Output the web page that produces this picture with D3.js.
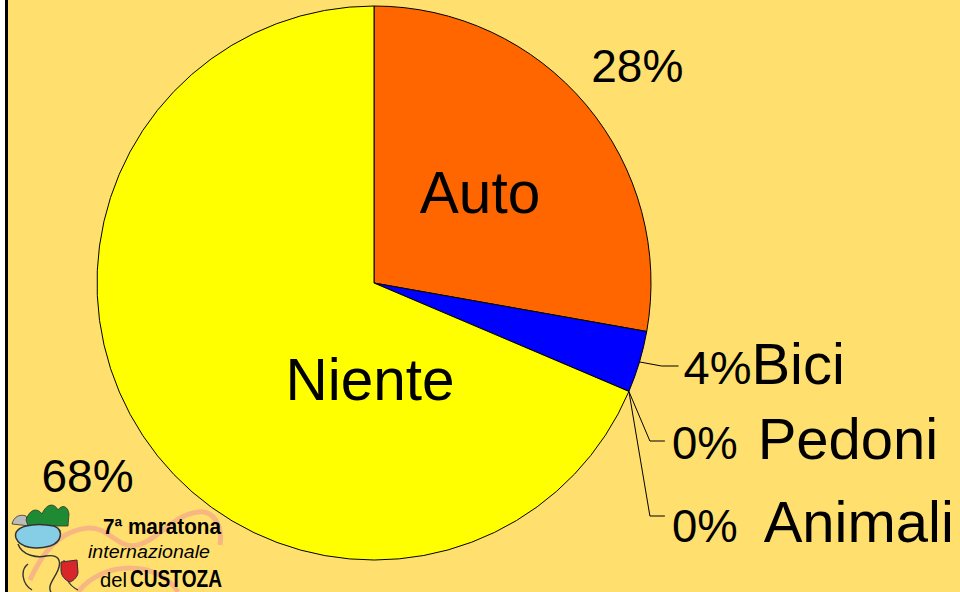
<!DOCTYPE html>
<meta charset="utf-8">
<style>
body { margin: 0; background: #fff; }
svg { display: block; }
text { font-family: "Liberation Sans", Arial, sans-serif; fill: #000; }
</style>
<body>
<script src="https://cdn.jsdelivr.net/npm/d3@7"></script>
<script>

var categories = ["Auto", "Bici", "Pedoni", "Animali", "Niente"];
var values = [27.8, 3.6, 0, 0, 68.6];
var pctLabels = ["28%", "4%", "0%", "0%", "68%"];
var colors = ["#FF6600", "#0000FF", "#FF00FF", "#00FFFF", "#FFFF00"];

var width = 960, height = 592;
var cx = 374, cy = 283, radius = 277;

var svg = d3.select("body").append("svg")
  .attr("width", width).attr("height", height);

// background + left frame line
svg.append("rect").attr("x", 8).attr("y", 0).attr("width", width - 8).attr("height", height)
  .attr("fill", "#FFE06E");
svg.append("line").attr("x1", 6.5).attr("x2", 6.5).attr("y1", 0).attr("y2", height)
  .attr("stroke", "#000").attr("stroke-width", 3);

// ---- logo (drawn roughly) ----
var logo = svg.append("g").attr("transform", "translate(8,500)");
logo.append("path")
  .attr("d", "M22,80 C40,40 60,30 80,28 C100,26 110,50 130,45 C150,40 165,15 190,12 C205,10 215,25 212,45 M70,92 C95,60 150,60 170,92")
  .attr("fill", "none").attr("stroke", "#F4A98A").attr("stroke-width", 5).attr("opacity", 0.75);
logo.append("path")
  .attr("d", "M4,24 C6,16 12,14 18,16 L22,26 Z")
  .attr("fill", "#bbb").attr("stroke", "#333").attr("stroke-width", 0.8);
logo.append("path")
  .attr("d", "M18,20 C22,8 30,8 34,14 C38,4 46,2 50,10 C54,4 60,6 61,14 L60,26 L20,26 Z")
  .attr("fill", "#1E8A34").attr("stroke", "#333").attr("stroke-width", 0.8);
logo.append("path")
  .attr("d", "M8,38 C4,26 26,22 46,26 C56,30 54,42 42,46 C28,50 12,48 8,38 Z")
  .attr("fill", "#86CDE6").attr("stroke", "#333").attr("stroke-width", 1.5);
logo.append("path")
  .attr("d", "M10,44 C14,56 30,58 38,56 C50,54 54,60 50,70 C46,80 38,86 44,94 M20,64 C12,70 14,84 24,90")
  .attr("fill", "none").attr("stroke", "#333").attr("stroke-width", 1.4);
logo.append("path")
  .attr("d", "M56,60 C56,80 62,86 70,90")
  .attr("fill", "none").attr("stroke", "#333").attr("stroke-width", 1.2);
logo.append("path")
  .attr("d", "M53,62 L69,60 L70,72 C70,78 63,82 62,82 C57,80 53,76 53,70 Z")
  .attr("fill", "#D8262B").attr("stroke", "#333").attr("stroke-width", 1);
logo.append("text").attr("x", 95).attr("y", 34)
  .attr("font-size", 22).attr("font-weight", "bold").attr("fill", "#222")
  .attr("textLength", 118).attr("lengthAdjust", "spacingAndGlyphs")
  .text("7ª maratona");
logo.append("text").attr("x", 80).attr("y", 58)
  .attr("font-size", 19).attr("font-style", "italic").attr("fill", "#222")
  .attr("textLength", 122).attr("lengthAdjust", "spacingAndGlyphs")
  .text("internazionale");
logo.append("text").attr("x", 92).attr("y", 87)
  .attr("font-size", 21).attr("fill", "#222")
  .attr("textLength", 27).attr("lengthAdjust", "spacingAndGlyphs")
  .text("del");
logo.append("text").attr("x", 122).attr("y", 87)
  .attr("font-size", 24).attr("font-weight", "bold").attr("fill", "#222")
  .attr("textLength", 92).attr("lengthAdjust", "spacingAndGlyphs")
  .text("CUSTOZA");

// ---- pie ----
var data = categories.map(function(c, i) {
  return { label: c, value: values[i], pct: pctLabels[i], color: colors[i] };
});

var pie = d3.pie().sort(null).value(function(d) { return d.value; });
var arcs = pie(data);

var arc = d3.arc().innerRadius(0).outerRadius(radius);
var outerArc = d3.arc().innerRadius(radius * 1.24).outerRadius(radius * 1.24);

var g = svg.append("g").attr("transform", "translate(" + cx + "," + cy + ")");

g.selectAll("path.slice")
  .data(arcs.filter(function(d) { return d.value > 0; }))
  .enter().append("path")
  .attr("class", "slice")
  .attr("d", arc)
  .attr("fill", function(d) { return d.data.color; })
  .attr("stroke", "#000")
  .attr("stroke-width", 1);

function midAngle(d) { return (d.startAngle + d.endAngle) / 2; }
function edgePoint(a, r) { return [r * Math.sin(a), -r * Math.cos(a)]; }

// big slices: percentage outside, name inside
var big = arcs.filter(function(d) { return d.value >= 10; });
g.selectAll("text.pct")
  .data(big).enter().append("text")
  .attr("class", "pct")
  .attr("transform", function(d) { return "translate(" + outerArc.centroid(d) + ")"; })
  .attr("text-anchor", "middle").attr("dy", "0.42em")
  .attr("font-size", 46)
  .text(function(d) { return d.data.pct; });

var nameOffset = { Auto: [106, -91], Niente: [-4, 96] };
g.selectAll("text.name")
  .data(big).enter().append("text")
  .attr("class", "name")
  .attr("x", function(d) { return nameOffset[d.data.label][0]; })
  .attr("y", function(d) { return nameOffset[d.data.label][1]; })
  .attr("text-anchor", "middle").attr("dy", "0.36em")
  .attr("font-size", 58.5)
  .text(function(d) { return d.data.label; });

// small slices: leader lines to stacked labels on the right
var small = arcs.filter(function(d) { return d.value < 10; });
var rowY0 = 83, rowStep = 75;
var baseShift = [18, 18, 26];
var nameGap = [0, 20, 26];
small.forEach(function(d, i) {
  var p0 = edgePoint(midAngle(d), radius);
  var y = rowY0 + i * rowStep;
  var xElbow = i === 0 ? p0[0] + 22 : p0[0] + 21;
  var xEnd = xElbow + (i === 0 ? 17 : 15);
  g.append("polyline")
    .attr("points", [p0, [xElbow, y], [xEnd, y]].join(" "))
    .attr("fill", "none").attr("stroke", "#000").attr("stroke-width", 1);
  var t = g.append("text")
    .attr("x", xEnd + (i === 0 ? 5 : 7)).attr("y", y + baseShift[i]);
  t.append("tspan").attr("font-size", i === 0 ? 47 : 45.5).text(d.data.pct);
  t.append("tspan").attr("font-size", 58).attr("dx", nameGap[i]).text(d.data.label);
});

</script>
</body>
